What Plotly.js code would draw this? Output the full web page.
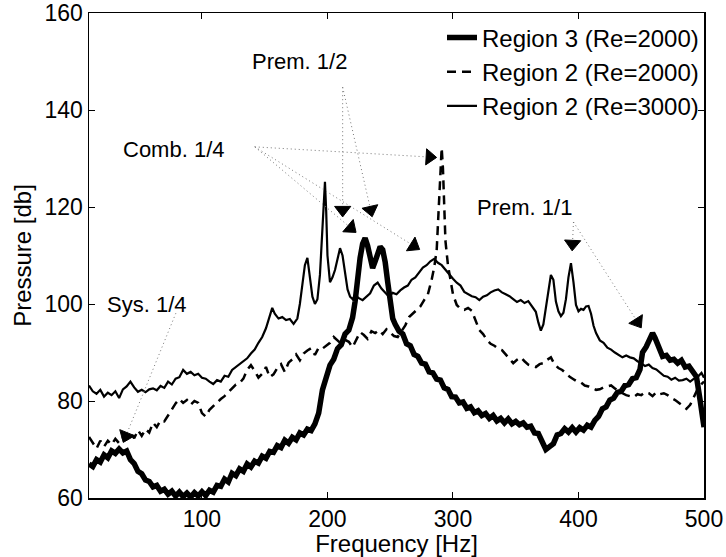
<!DOCTYPE html>
<html>
<head>
<meta charset="utf-8">
<script src="https://cdn.plot.ly/plotly-3.0.1.min.js"></script>
<style>html,body{margin:0;padding:0;background:#fff;}#chart{width:726px;height:557px;}</style>
</head>
<body>
<div id="chart"></div>
<script>
// ---- Data ----
const seriesNames = ["Region 3 (Re=2000)", "Region 2 (Re=2000)", "Region 2 (Re=3000)"];

const freqR3 = [10,13,16,19,22,25,28,31,34,37,40,43,46,49,52,55,58,61,64,67,70,73,76,79,82,85,88,91,94,97,100,103,106,109,112,115,118,121,124,127,130,133,136,139,142,145,148,151,154,157,160,163,166,169,172,175,178,181,184,187,190,193,196,199,202,205,208,211,214,217,220,222,224,226,228,230,232,234,236,238,240,242,244,246,248,250,252,254,257,260,263,266,269,272,275,278,281,284,287,290,293,296,299,302,305,308,311,314,317,320,323,326,329,332,335,338,341,344,347,350,353,356,359,362,365,368,371,374,377,380,383,386,389,392,395,398,401,404,407,410,413,416,419,422,425,428,431,434,437,440,443,446,449,451,454,457,459,461,464,467,470,473,476,479,482,485,488,491,494,497,500];
const presR3 = [67.0,66.5,67.9,67.4,68.9,68.3,69.7,69.2,70.1,69.3,69.7,67.9,67.1,65.5,65.0,63.7,63.4,62.3,62.6,61.4,61.8,60.8,61.4,60.4,61.2,60.3,61.0,60.2,61.1,60.4,61.3,60.5,61.6,61.2,62.6,62.4,63.9,63.3,65.1,64.6,66.0,65.5,67.0,66.4,67.6,67.2,68.6,68.2,69.6,69.4,70.8,70.4,71.9,71.3,72.5,72.0,73.4,73.0,74.2,73.9,75.3,77.5,82.3,84.6,87.4,88.6,90.8,91.6,93.8,94.6,97.2,100.5,105.6,109.5,112.4,113.6,112.0,109.0,107.4,108.8,110.6,111.8,111.2,108.6,104.5,101.0,97.0,95.8,94.4,93.8,91.8,91.4,89.6,89.2,87.8,87.6,86.0,85.8,84.5,84.3,82.7,82.4,80.9,80.8,79.6,79.8,78.5,78.8,77.6,78.0,77.0,77.4,76.4,77.0,75.9,76.4,75.5,76.3,75.3,75.8,75.1,75.5,74.6,74.8,73.4,73.3,71.6,70.0,70.6,71.2,73.0,73.3,74.3,73.6,74.5,73.6,74.5,74.0,75.0,74.6,76.0,76.8,78.4,78.8,80.2,80.6,81.8,82.0,83.2,83.4,84.6,84.8,86.5,90.0,91.2,93.2,94.0,93.0,91.2,89.2,89.4,88.4,88.6,87.8,88.4,87.0,87.2,86.0,85.0,80.0,74.6];

const freqR2a = [10,13,16,19,22,25,28,31,34,37,40,43,46,49,52,55,58,61,64,67,70,73,76,79,82,85,88,91,94,97,100,103,106,109,112,115,118,121,124,127,130,133,136,139,142,145,148,151,154,157,160,163,166,169,172,175,178,181,184,187,190,193,196,199,202,205,208,211,214,217,220,223,226,229,232,235,238,241,244,247,250,253,256,259,262,265,268,271,274,277,280,283,285,287,288.5,290,291,292,293,294,296,298,300,303,306,309,312,315,318,321,324,327,330,333,336,339,342,345,348,351,354,357,360,363,366,369,372,375,378,381,384,387,390,393,396,399,402,405,408,411,414,417,420,423,426,429,432,435,438,441,444,447,450,453,456,459,462,465,468,471,474,477,480,483,486,489,492,495,498,500];
const presR2a = [72.6,71.5,70.2,71.8,70.6,71.8,71.0,72.2,71.3,72.4,72.2,73.5,72.3,74.0,72.8,74.2,73.5,75.5,74.6,76.0,75.8,77.0,78.2,79.5,80.4,79.6,80.2,79.2,80.0,79.6,77.5,76.8,78.2,79.0,79.6,80.4,81.0,81.8,82.5,83.4,83.7,84.6,86.4,87.4,86.2,84.8,85.6,87.0,84.9,85.5,86.8,87.6,86.0,87.9,88.6,89.6,88.4,89.8,90.4,90.9,89.5,91.0,90.8,91.5,92.0,93.2,92.4,91.8,92.6,92.2,91.1,92.5,94.2,93.6,92.8,94.4,94.0,94.6,93.8,94.8,94.0,93.4,93.2,94.5,95.6,97.3,98.0,98.6,99.5,100.8,102.0,105.0,107.5,111.0,118.0,127.0,132.2,128.0,120.0,113.0,108.0,104.5,102.0,99.8,99.0,98.8,99.2,98.6,96.5,94.6,93.8,92.6,91.8,91.4,90.8,90.5,89.6,88.6,87.8,88.5,89.0,88.2,87.5,87.2,87.0,87.6,87.8,88.5,89.0,87.5,86.8,86.4,85.6,85.0,84.5,84.0,83.8,83.2,83.0,82.6,82.3,82.4,82.8,83.0,83.2,82.6,82.0,81.6,81.2,81.0,80.8,81.4,81.2,81.8,81.6,81.0,81.8,81.4,81.6,81.2,80.6,80.2,79.6,79.0,78.4,79.2,81.0,82.5,83.5,84.0];

const freqR2b = [10,13,16,19,22,25,28,31,34,37,40,43,46,49,52,55,58,61,64,67,70,73,76,79,82,85,88,91,94,97,100,103,106,109,112,115,118,121,124,127,130,133,136,139,142,145,148,151,154,156,158,161,164,167,170,173,176,178,180,182,184,186,188,190,192,194,196,197,198,199,200,202,204,206,208,210,212,214,216,218,220,222,225,228,231,234,237,240,243,246,249,252,255,258,261,264,267,270,273,276,279,282,285,288,291,294,297,300,303,306,309,312,315,318,321,324,327,330,333,336,339,342,345,348,351,354,357,360,363,366,368,370,372,374,376,378,380,382,384,386,388,390,392,394,396,398,400,402,404,406,408,410,412,414,417,420,423,426,429,432,435,438,441,444,447,450,453,456,459,462,465,468,471,474,477,480,483,486,489,492,495,498,500];
const presR2b = [83.2,82.0,81.5,82.3,80.9,81.7,81.2,82.0,80.6,82.4,83.0,84.0,82.8,81.9,82.3,81.8,82.4,82.6,82.2,83.1,82.7,84.0,83.4,84.6,84.9,86.4,85.6,86.0,85.3,85.6,84.8,84.6,84.0,83.5,84.3,84.0,85.2,85.0,86.4,87.0,87.6,88.2,88.8,89.8,90.6,92.0,93.2,95.0,97.6,99.2,98.0,97.0,97.3,96.7,96.9,95.9,97.0,100.0,104.0,108.0,109.5,106.0,101.5,100.0,101.0,106.0,116.0,122.0,125.2,119.0,110.0,104.5,105.5,107.0,109.5,111.5,110.0,106.0,103.0,101.5,101.0,101.8,101.2,100.8,101.5,102.2,103.8,104.4,103.2,102.4,101.5,102.3,102.0,102.8,103.4,103.8,105.0,105.5,106.4,107.5,108.0,108.8,109.3,108.5,108.0,107.0,106.0,105.2,104.4,103.8,102.5,102.0,101.6,101.4,100.8,101.5,101.8,102.4,102.8,103.0,102.4,102.0,101.6,101.0,100.4,100.8,100.2,100.6,99.6,98.4,96.2,94.5,95.8,99.0,103.0,106.0,105.0,100.5,98.5,97.5,98.2,101.0,105.5,108.4,104.5,99.8,98.5,99.0,98.8,99.5,99.6,98.0,95.5,94.0,92.5,92.0,91.0,90.6,90.0,89.5,89.0,89.4,89.0,88.8,88.2,87.8,87.2,87.5,86.8,86.5,85.8,85.2,85.0,84.4,84.8,84.2,84.3,84.6,84.0,84.6,85.0,85.8,84.8];

// annotation labels and arrows (tail -> head, in data units)
const labelText = ["Sys. 1/4", "Comb. 1/4", "Prem. 1/2", "Prem. 1/1"];
const labelX = [56, 78, 178, 357];
const labelY = [99.8, 131.8, 149.9, 119.8];
const arrowTailX = [79.2, 142.1, 142.1, 142.1, 212.1, 212.1, 396.0, 396.0];
const arrowTailY = [98.1, 132.4, 132.4, 132.4, 144.7, 144.7, 116.9, 116.9];
const arrowHeadX = [39.4, 281.4, 218.5, 268.7, 212.1, 234.4, 395.2, 447.0];
const arrowHeadY = [72.8, 130.3, 115.7, 112.0, 119.4, 119.4, 112.4, 96.3];

const xTicks = [100, 200, 300, 400, 500];

// ---- Traces ----
const FONT = "Liberation Sans, Arial, Helvetica, sans-serif";
const traces = [
  {x: freqR3, y: presR3, name: seriesNames[0], mode: "lines",
   line: {color: "#000", width: 5.5}},
  {x: freqR2a, y: presR2a, name: seriesNames[1], mode: "lines",
   line: {color: "#000", width: 2.5, dash: "9px,6px"}},
  {x: freqR2b, y: presR2b, name: seriesNames[2], mode: "lines",
   line: {color: "#000", width: 2.2}}
];
for (let i = 0; i < arrowTailX.length; i++) {
  traces.push({
    x: [arrowTailX[i], arrowHeadX[i]], y: [arrowTailY[i], arrowHeadY[i]],
    mode: "lines", showlegend: false, hoverinfo: "skip",
    line: {color: "#777", width: 1, dash: "1px,3px"}
  });
  traces.push({
    x: [arrowTailX[i], arrowHeadX[i]], y: [arrowTailY[i], arrowHeadY[i]],
    mode: "markers", showlegend: false, hoverinfo: "skip", opacity: 1,
    marker: {symbol: "triangle-up", size: [0, 14], color: "#000", opacity: 1,
             angleref: "previous", angle: 0, line: {width: 1, color: "#000"}}
  });
}

const annotations = labelText.map((t, i) => ({
  x: labelX[i], y: labelY[i], xref: "x", yref: "y", text: t, showarrow: false,
  font: {family: FONT, size: 22, color: "#000"}
}));

const layout = {
  width: 726, height: 557,
  margin: {l: 89, r: 22, t: 13, b: 59},
  paper_bgcolor: "#fff", plot_bgcolor: "#fff",
  font: {family: FONT, color: "#000", size: 23},
  showlegend: true,
  legend: {x: 1, xanchor: "right", y: 0.995, yanchor: "top", bgcolor: "rgba(0,0,0,0)",
           font: {family: FONT, size: 24, color: "#000"}, tracegroupgap: 0},
  xaxis: {range: [10, 500], tickvals: xTicks, ticks: "inside", ticklen: 6,
          showgrid: false, zeroline: false, showline: true, mirror: "ticks",
          linecolor: "#000", linewidth: 1.5, tickcolor: "#000",
          tickfont: {family: FONT, size: 23},
          title: {text: "Frequency [Hz]", font: {family: FONT, size: 24}, standoff: 2}},
  yaxis: {range: [60, 160], dtick: 20, ticks: "inside", ticklen: 6,
          showgrid: false, zeroline: false, showline: true, mirror: "ticks",
          linecolor: "#000", linewidth: 1.5, tickcolor: "#000",
          tickfont: {family: FONT, size: 23},
          title: {text: "Pressure [db]", font: {family: FONT, size: 24}, standoff: 6}},
  annotations: annotations
};

Plotly.newPlot("chart", traces, layout, {displayModeBar: false, staticPlot: true});
</script>
</body>
</html>
